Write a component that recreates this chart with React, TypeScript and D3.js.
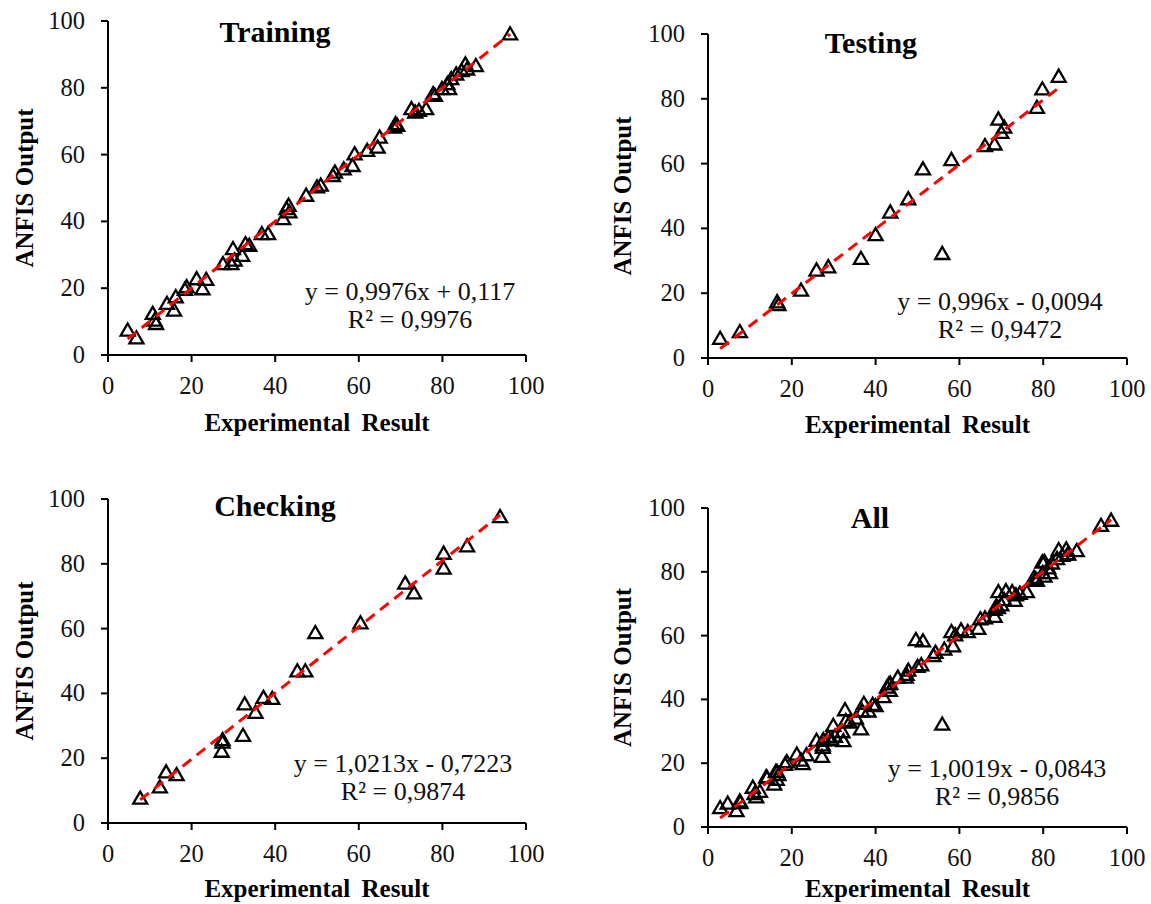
import React from "react";
import * as d3 from "d3";

// ---------- DATA ----------
const trainingPoints: [number, number][] = [
  [4.7, 7.0], [6.8, 4.7], [10.7, 12.0], [11.1, 10.0], [11.5, 9.0], [14.1, 15.0],
  [15.8, 13.0], [16.2, 17.0], [18.4, 19.2], [18.8, 20.0], [21.2, 22.4], [22.6, 19.4],
  [23.5, 22.2], [27.5, 26.9], [29.5, 26.9], [29.9, 31.4], [30.3, 28.0], [32.1, 29.4],
  [32.9, 32.9], [33.8, 32.4], [36.8, 35.9], [38.3, 35.9], [41.9, 40.4], [42.7, 43.4],
  [43.2, 44.4], [43.4, 42.4], [47.4, 47.4], [50.0, 49.9], [50.9, 50.4], [53.8, 53.3],
  [54.3, 54.3], [56.4, 55.3], [58.5, 56.3], [59.0, 59.8], [62.0, 60.8], [64.5, 61.8],
  [65.0, 64.8], [68.4, 67.8], [68.8, 68.8], [69.2, 68.3], [72.6, 73.3], [73.5, 72.3],
  [74.4, 72.8], [76.1, 73.3], [77.8, 77.8], [78.2, 77.3], [79.9, 79.3], [81.2, 80.8],
  [81.6, 79.3], [82.1, 82.3], [83.3, 83.7], [84.6, 84.7], [85.5, 86.7], [85.9, 85.2],
  [88.0, 86.2], [96.2, 95.7],
];

const testingPoints: [number, number][] = [
  [2.9, 5.6], [7.6, 7.7], [16.5, 16.9], [16.8, 16.0], [22.2, 20.5], [25.9, 26.7],
  [28.7, 27.7], [36.5, 30.3], [40.0, 37.6], [43.5, 44.6], [47.8, 48.7], [51.3, 57.9],
  [55.9, 31.8], [58.1, 60.8], [66.1, 65.1], [68.4, 65.6], [69.3, 73.3], [70.0, 69.2],
  [70.7, 70.8], [78.5, 76.9], [79.8, 82.6], [83.7, 86.5],
];

const checkingPoints: [number, number][] = [
  [7.7, 7.2], [12.4, 10.7], [13.9, 15.3], [16.4, 14.5], [27.2, 21.7], [27.4, 24.5],
  [27.4, 25.3], [32.3, 26.6], [32.7, 36.3], [35.3, 33.7], [37.2, 38.3], [39.3, 38.0],
  [45.3, 46.5], [47.2, 46.5], [49.6, 58.3], [60.4, 61.3], [71.1, 73.6], [73.2, 70.6],
  [80.3, 78.2], [80.3, 82.8], [85.9, 85.1], [93.8, 94.1],
];

const allPoints: [number, number][] = [...trainingPoints, ...testingPoints, ...checkingPoints];

const panelTitles = ["Training", "Testing", "Checking", "All"];
const equationLines = [
  "y = 0,9976x + 0,117",
  "y = 0,996x - 0,0094",
  "y = 1,0213x - 0,7223",
  "y = 1,0019x - 0,0843",
];
const r2Lines = ["R² = 0,9976", "R² = 0,9472", "R² = 0,9874", "R² = 0,9856"];
const slopes = [0.9976, 0.996, 1.0213, 1.0019];
const intercepts = [0.117, -0.0094, -0.7223, -0.0843];
const tickValues = [0, 20, 40, 60, 80, 100];
const xAxisTitle = "Experimental Result";
const yAxisTitle = "ANFIS Output";

const seriesList = [trainingPoints, testingPoints, checkingPoints, allPoints];

// ---------- LAYOUT ----------
const layouts = [
  { x0: 108, x1: 526, y0: 355, y1: 21, titleX: 275, titleY: 42, eqX: 410, eqY1: 300, eqY2: 328, yTitleX: 33, xTitleY: 431 },
  { x0: 708, x1: 1127, y0: 358, y1: 34, titleX: 871, titleY: 53, eqX: 1000, eqY1: 310, eqY2: 338, yTitleX: 631, xTitleY: 433 },
  { x0: 108, x1: 526, y0: 823, y1: 499, titleX: 275, titleY: 516, eqX: 403, eqY1: 772, eqY2: 800, yTitleX: 33, xTitleY: 897 },
  { x0: 708, x1: 1127, y0: 827, y1: 508, titleX: 870, titleY: 528, eqX: 997, eqY1: 777, eqY2: 805, yTitleX: 631, xTitleY: 897 },
];

const FONT = "'Liberation Serif', 'Times New Roman', serif";
const tri = d3.symbol().type(d3.symbolTriangle).size(85);

function Panel({ idx }: { idx: number }) {
  const L = layouts[idx];
  const pts = seriesList[idx];
  const x = d3.scaleLinear().domain([0, 100]).range([L.x0, L.x1]);
  const y = d3.scaleLinear().domain([0, 100]).range([L.y0, L.y1]);
  const xs = pts.map((p) => p[0]);
  const xmin = d3.min(xs) as number;
  const xmax = d3.max(xs) as number;
  const lineGen = d3
    .line<number>()
    .x((d) => x(d))
    .y((d) => y(slopes[idx] * d + intercepts[idx]));
  const tick = 7;
  return (
    <g>
      {/* axes */}
      <line x1={L.x0 - tick} x2={L.x1} y1={L.y0} y2={L.y0} stroke="#000" strokeWidth={2} />
      <line x1={L.x0} x2={L.x0} y1={L.y1} y2={L.y0 + tick} stroke="#000" strokeWidth={2} />
      {tickValues.map((t) => (
        <g key={"x" + t}>
          <line x1={x(t)} x2={x(t)} y1={L.y0} y2={L.y0 + tick} stroke="#000" strokeWidth={2} />
          <text x={x(t)} y={L.y0 + 39} textAnchor="middle" fontFamily={FONT} fontSize={24.5} fill="#111">
            {t}
          </text>
        </g>
      ))}
      {tickValues.map((t) => (
        <g key={"y" + t}>
          <line x1={L.x0 - tick} x2={L.x0} y1={y(t)} y2={y(t)} stroke="#000" strokeWidth={2} />
          <text x={L.x0 - 23} y={y(t) + 8} textAnchor="end" fontFamily={FONT} fontSize={24.5} fill="#111">
            {t}
          </text>
        </g>
      ))}
      {/* markers */}
      {pts.map((p, i) => (
        <path
          key={i}
          d={tri() as string}
          transform={`translate(${x(p[0])},${y(p[1])})`}
          fill="none"
          stroke="#000"
          strokeWidth={2.3}
        />
      ))}
      {/* trendline */}
      <path
        d={lineGen([xmin, xmax]) as string}
        fill="none"
        stroke="#ff0000"
        strokeWidth={3}
        strokeDasharray="11,7"
      />
      {/* titles */}
      <text x={L.titleX} y={L.titleY} textAnchor="middle" fontFamily={FONT} fontWeight="bold" fontSize={30} fill="#000">
        {panelTitles[idx]}
      </text>
      <text x={L.eqX} y={L.eqY1} textAnchor="middle" fontFamily={FONT} fontSize={26} fill="#111">
        {equationLines[idx]}
      </text>
      <text x={L.eqX} y={L.eqY2} textAnchor="middle" fontFamily={FONT} fontSize={26} fill="#111">
        {r2Lines[idx]}
      </text>
      <text
        x={(L.x0 + L.x1) / 2}
        y={L.xTitleY}
        textAnchor="middle"
        fontFamily={FONT}
        fontWeight="bold"
        fontSize={25}
        wordSpacing={5}
        fill="#000"
      >
        {xAxisTitle}
      </text>
      <text
        transform={`translate(${L.yTitleX},${(L.y0 + L.y1) / 2}) rotate(-90)`}
        textAnchor="middle"
        fontFamily={FONT}
        fontWeight="bold"
        fontSize={25}
        fill="#000"
      >
        {yAxisTitle}
      </text>
    </g>
  );
}

export default function App() {
  return (
    <svg
      width={1151}
      height={904}
      style={{ position: "absolute", left: 0, top: 0, background: "#fff" }}
    >
      <rect width={1151} height={904} fill="#fff" />
      {[0, 1, 2, 3].map((i) => (
        <Panel key={i} idx={i} />
      ))}
    </svg>
  );
}
